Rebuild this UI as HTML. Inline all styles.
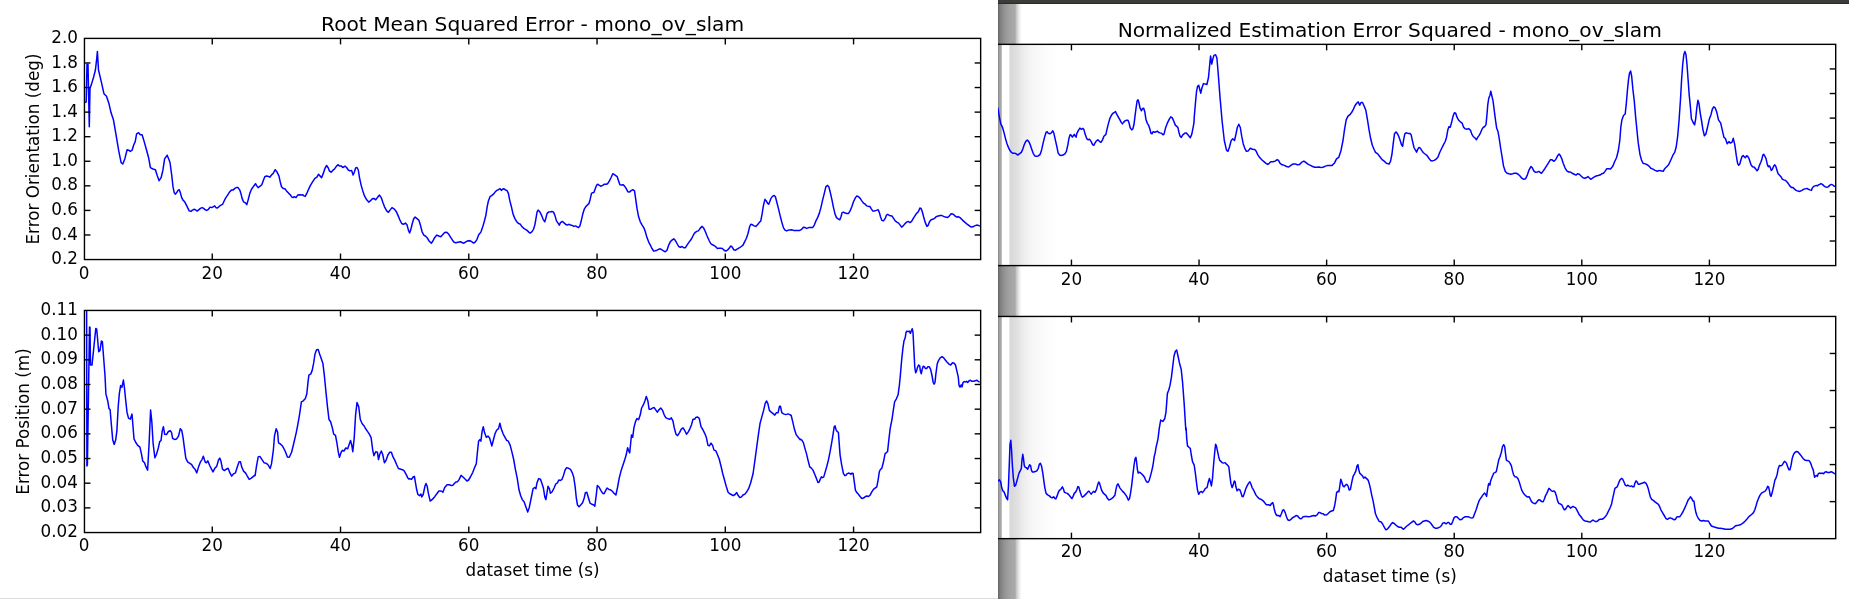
<!DOCTYPE html><html><head><meta charset="utf-8"><style>html,body{margin:0;padding:0;background:#fff;overflow:hidden}svg{display:block}text{-webkit-font-smoothing:antialiased}</style></head><body>
<svg style="will-change:transform" width="1849" height="599" viewBox="0 0 1849 599" font-family="'DejaVu Sans','Liberation Sans',sans-serif">
<defs><linearGradient id="gs" x1="0" x2="1" y1="0" y2="0"><stop offset="0" stop-color="#7a7a7a"/><stop offset="0.5" stop-color="#969696"/><stop offset="0.93" stop-color="#a4a4a4"/><stop offset="1" stop-color="#d8d8d8"/></linearGradient><linearGradient id="gi" x1="0" x2="1" y1="0" y2="0"><stop offset="0" stop-color="#dcdcdc"/><stop offset="0.4" stop-color="#f0f0f0"/><stop offset="1" stop-color="#ffffff"/></linearGradient><clipPath id="cl"><rect x="0" y="0" width="998" height="599"/></clipPath><clipPath id="cr"><rect x="998" y="0" width="851" height="599"/></clipPath></defs>
<g clip-path="url(#cl)">
<rect x="0" y="0" width="998" height="599" fill="#fff"/>
<rect x="0" y="598" width="998" height="1" fill="#dedede"/>
<svg x="84.45" y="38.4" width="896.20" height="221.15" viewBox="84.45 38.4 896.20 221.15" overflow="hidden"><polyline points="84.0,102.6 86.2,102.1 87.0,64.2 88.0,64.2 88.7,98.4 89.3,126.8 90.0,88.4 91.2,85.1 93.7,76.7 95.4,70.0 96.4,61.7 97.4,51.4 98.5,70.0 101.5,82.6 104.0,93.8 106.5,96.3 109.0,103.8 111.0,112.6 113.5,120.1 116.1,135.2 118.6,150.2 121.1,162.7 122.8,164.0 124.8,158.9 127.1,149.7 128.6,150.2 130.3,151.4 132.1,150.2 133.6,145.2 135.3,141.4 136.6,133.9 138.6,132.7 140.3,134.7 142.1,134.7 144.1,141.4 146.6,150.2 148.6,157.7 150.4,167.7 152.9,169.0 155.4,169.7 157.1,175.2 159.1,180.7 161.1,177.7 162.9,170.2 164.6,158.9 167.2,155.2 169.2,160.2 170.0,162.5 171.7,175.0 173.0,186.7 174.2,192.6 175.3,194.2 176.7,192.6 178.0,190.4 179.2,189.7 180.3,192.6 181.7,197.6 183.0,200.1 184.7,201.8 186.4,205.1 188.0,208.4 189.2,210.9 190.9,211.4 192.5,210.1 194.2,209.3 195.9,210.1 197.2,211.1 198.7,209.8 200.4,208.4 202.1,207.6 203.7,208.4 205.1,209.8 206.7,210.4 208.4,209.3 210.1,207.1 211.7,207.6 213.1,206.8 214.7,205.9 215.9,207.6 217.1,208.1 218.8,206.8 220.4,205.4 222.6,204.3 223.8,201.8 225.4,198.4 227.6,195.1 229.8,191.7 231.4,190.1 233.1,190.1 234.8,188.4 236.4,187.6 238.1,187.6 239.8,190.1 240.9,193.4 242.1,198.4 243.5,201.8 245.1,202.6 246.8,204.6 248.1,200.1 249.8,193.4 251.5,189.2 253.5,186.4 255.5,183.7 256.8,185.9 258.1,187.6 259.8,186.4 261.8,184.7 263.5,180.1 264.8,176.7 266.5,175.9 268.5,176.4 269.8,177.2 271.5,175.0 273.2,173.4 275.2,169.7 276.8,171.7 278.9,175.9 280.2,181.7 281.5,186.7 283.2,188.4 284.9,188.7 286.5,190.9 288.5,193.1 290.2,194.7 291.9,197.1 293.2,197.6 294.4,196.7 296.0,197.6 297.7,195.1 299.4,194.7 301.1,195.1 302.7,194.7 303.9,195.9 305.2,196.4 306.9,193.1 308.6,189.2 310.6,185.1 312.7,181.7 314.9,178.4 316.9,177.1 318.6,174.2 319.9,175.9 321.6,177.6 323.3,173.4 324.9,168.4 326.6,165.5 328.3,168.0 329.4,170.9 331.1,172.2 332.8,170.4 334.4,169.2 336.1,166.7 337.8,164.7 339.4,165.9 341.1,165.9 342.8,167.5 345.0,166.2 346.6,167.5 348.3,170.0 350.0,170.9 351.6,170.4 353.1,175.0 354.5,171.7 355.6,168.0 357.0,167.5 358.3,170.0 359.5,177.6 361.1,185.1 362.8,190.9 364.5,195.9 366.7,199.8 368.7,202.1 370.3,200.9 372.3,198.8 374.0,198.4 375.7,199.8 377.4,197.6 379.5,195.1 381.2,197.6 382.9,202.6 384.5,206.8 386.7,210.9 388.4,212.3 390.0,210.1 392.0,207.6 394.0,208.8 396.2,211.4 397.9,215.1 399.6,219.3 401.7,223.5 403.4,224.3 405.4,223.1 407.1,225.1 408.4,230.1 409.6,233.0 410.7,230.1 412.1,224.3 413.7,218.8 415.1,217.1 416.7,218.4 418.8,220.1 420.4,225.1 422.1,231.8 423.8,235.1 425.4,236.0 427.1,237.7 429.1,241.0 431.3,243.2 432.9,241.0 434.6,237.7 436.8,235.1 438.8,236.0 440.8,236.8 442.4,235.1 444.6,232.6 446.8,232.3 448.8,234.3 450.5,237.2 452.5,240.2 454.1,242.2 455.8,242.7 458.0,242.3 460.5,241.8 462.5,242.7 463.8,243.2 465.8,241.8 468.0,240.7 470.0,241.0 470.0,240.6 472.0,241.8 473.7,243.1 475.4,241.8 477.0,239.3 478.7,234.8 480.9,232.1 482.5,227.6 484.2,221.8 485.9,215.1 487.2,206.7 488.4,200.9 490.0,196.7 491.7,195.6 493.4,194.2 495.1,192.1 496.7,190.4 498.4,189.7 500.1,188.7 501.4,190.4 502.6,189.2 503.7,188.7 505.1,189.7 507.1,190.6 508.4,193.4 509.7,200.1 511.4,206.7 513.1,214.3 514.8,218.4 516.8,221.8 518.4,223.4 520.4,224.3 522.1,226.8 523.8,228.4 525.4,229.3 527.1,230.4 528.8,232.1 530.1,233.1 531.8,231.8 533.5,229.3 534.8,225.1 536.0,218.4 537.1,211.8 538.1,210.1 539.8,211.8 541.5,215.1 543.1,219.3 544.8,221.8 546.0,217.6 547.1,213.4 548.5,212.1 550.5,211.8 552.1,211.4 553.5,212.1 554.8,215.1 556.5,220.9 558.2,223.4 559.3,225.1 560.5,222.6 562.2,221.4 563.8,222.6 565.5,224.3 567.2,225.1 568.8,224.3 570.5,225.1 572.2,225.4 573.9,226.4 575.5,225.9 577.2,226.8 578.5,227.6 579.9,225.9 581.0,221.8 582.7,214.3 584.4,208.8 586.0,206.4 587.7,204.7 588.9,203.7 590.2,199.2 591.5,193.4 592.7,192.7 593.9,192.6 595.2,188.7 596.5,185.4 597.7,184.2 599.4,185.4 601.1,186.2 602.7,185.4 604.4,184.2 606.1,184.2 607.7,183.7 609.4,180.9 611.1,177.5 612.8,173.7 614.4,174.7 616.1,175.9 617.2,176.7 618.6,180.9 619.9,184.7 621.6,185.0 623.3,184.7 624.4,185.9 626.1,188.4 627.8,191.7 629.4,192.1 631.1,190.6 632.8,189.7 634.5,190.9 635.6,198.4 637.0,208.4 638.6,216.8 640.3,221.8 642.0,224.8 644.0,228.1 645.3,231.8 647.0,237.6 648.6,241.8 650.3,245.1 652.0,248.5 653.6,251.0 655.3,250.7 657.0,250.2 658.7,249.3 660.3,248.8 662.0,249.8 663.7,251.0 665.3,251.8 667.0,250.2 668.7,245.1 670.3,241.8 672.0,240.1 673.7,238.8 675.4,240.6 677.0,243.5 678.7,246.5 680.4,247.2 682.0,246.5 683.7,247.7 685.4,247.7 687.0,245.1 688.7,242.6 691.2,239.3 692.9,236.0 694.5,233.1 696.7,231.4 698.4,230.9 700.1,228.4 702.1,226.4 703.7,228.1 705.4,231.8 707.1,236.0 709.1,240.5 710.7,243.5 712.4,244.8 714.1,245.5 715.8,246.8 717.4,248.5 719.1,248.2 720.8,248.2 722.4,248.5 724.1,250.2 725.8,251.0 727.4,250.2 729.1,248.2 730.8,246.0 732.1,246.8 733.8,249.8 735.5,250.2 737.5,248.8 739.6,247.7 741.3,246.5 743.0,245.1 744.6,241.8 746.3,238.5 748.0,233.5 749.6,226.8 750.8,224.3 752.5,224.8 754.1,225.9 755.8,226.4 757.5,224.8 759.2,222.6 760.8,220.9 762.2,213.4 763.5,205.1 765.0,199.2 765.3,200.1 766.3,200.9 767.5,203.1 768.7,204.2 769.7,201.7 770.9,198.4 772.5,196.4 774.2,195.4 775.4,196.7 776.7,201.7 778.4,208.4 780.0,215.1 781.7,221.8 783.4,227.6 785.0,230.1 786.7,230.9 788.4,230.1 790.0,230.1 791.7,229.8 793.4,230.4 795.4,230.4 797.6,230.4 799.7,230.4 801.7,229.3 803.4,227.3 805.1,227.6 806.7,228.4 808.8,227.6 810.9,227.6 812.6,227.6 814.3,225.1 815.9,220.9 817.6,217.6 819.3,213.4 820.9,207.6 822.6,200.1 824.3,193.4 825.9,186.7 827.6,185.4 828.8,186.7 830.1,191.7 831.8,199.2 833.5,207.6 835.1,214.3 836.5,217.6 838.1,218.8 839.8,219.8 841.0,216.8 842.1,212.6 843.5,212.1 845.1,213.1 846.8,213.4 848.5,213.4 850.1,210.9 851.8,206.7 853.5,201.7 855.2,198.1 856.8,195.9 858.5,196.7 860.2,198.4 861.8,200.9 863.5,203.1 865.2,204.2 866.8,205.9 868.5,206.4 869.9,206.4 871.0,208.4 872.7,210.9 874.9,210.9 876.5,210.4 878.2,209.8 879.4,212.6 880.5,216.8 881.9,220.4 883.5,220.9 885.2,218.4 886.5,215.1 887.7,214.3 889.4,215.4 891.9,215.9 893.6,218.4 895.2,220.9 896.9,222.1 898.6,223.1 900.2,225.1 901.6,227.1 903.2,225.9 904.9,223.8 906.6,222.1 908.2,221.4 909.9,222.6 911.6,221.4 913.3,218.4 914.9,215.9 916.6,213.4 918.3,211.8 919.9,208.1 921.1,208.4 922.3,211.8 923.6,216.8 925.3,222.6 926.9,226.4 928.3,225.1 929.5,221.8 931.1,219.8 932.8,219.3 934.5,218.4 936.1,216.8 938.3,215.9 940.3,215.4 942.0,215.6 943.6,216.4 945.3,217.1 947.3,217.6 949.0,216.4 951.1,213.8 953.3,214.3 955.0,215.9 956.7,217.1 958.3,216.8 960.0,217.6 961.7,219.3 963.3,220.9 965.3,222.6 967.4,224.3 969.5,225.9 971.2,227.1 972.9,226.8 974.5,225.9 976.7,225.1 978.7,225.6 980.4,226.1" fill="none" stroke="#0000ff" stroke-width="1.5" stroke-linejoin="round"/></svg>
<svg x="84.45" y="310.45" width="896.20" height="222.10" viewBox="84.45 310.45 896.20 222.10" overflow="hidden"><polyline points="86.6,300.0 86.9,466.0 87.4,465.0 89.5,327.0 90.0,327.4 90.5,365.1 92.0,365.1 95.8,328.4 96.7,329.0 98.7,351.7 100.0,350.4 101.4,341.1 102.4,341.7 105.0,375.5 105.9,393.9 107.8,401.2 109.0,408.6 110.1,409.5 111.4,425.1 112.7,439.8 114.2,444.4 115.7,439.8 116.9,430.6 118.2,406.7 119.3,393.9 120.6,385.6 121.9,387.4 123.4,380.1 124.3,386.5 125.6,399.4 127.0,412.2 128.5,418.1 130.3,419.2 132.0,414.1 132.9,425.1 134.0,438.9 135.8,442.5 137.7,445.3 139.9,447.1 141.4,453.6 142.7,460.9 144.5,462.8 145.8,466.4 147.6,470.1 149.1,443.5 150.6,410.0 151.8,421.4 153.1,443.5 154.9,457.8 156.4,454.5 158.3,448.1 159.7,441.6 161.0,440.7 162.3,430.6 163.4,426.6 164.7,434.3 166.5,434.6 168.4,431.5 170.2,430.6 171.5,432.4 172.6,438.3 174.4,439.4 176.6,438.9 178.5,436.1 180.3,428.8 181.8,430.6 183.1,437.9 184.3,447.1 185.8,458.1 187.6,461.8 189.8,463.3 191.7,464.6 193.2,467.3 195.0,469.2 196.8,472.9 198.7,466.4 200.5,461.8 202.0,459.6 203.3,456.3 205.1,461.8 206.4,462.8 207.8,460.9 209.7,465.5 211.5,469.2 213.0,471.9 214.8,468.3 216.7,466.4 218.5,460.0 219.8,458.1 221.1,461.8 222.5,469.2 224.4,470.6 226.2,469.2 228.1,468.3 229.9,472.9 231.7,476.1 233.6,473.8 235.4,472.9 237.2,467.3 239.1,461.8 240.5,461.8 241.8,467.3 243.7,471.4 245.5,472.9 247.3,476.1 249.2,479.3 251.0,478.4 252.8,476.9 254.9,475.1 255.1,475.6 256.5,466.2 258.2,456.9 259.8,456.4 261.7,459.2 264.0,462.7 266.4,463.4 268.2,465.0 270.1,468.5 271.5,463.9 273.4,449.8 274.5,435.8 276.2,428.8 277.6,432.3 278.5,442.8 280.4,444.0 282.7,446.3 285.1,451.0 287.4,456.9 289.3,457.3 291.6,452.2 293.9,442.8 296.3,432.3 297.9,424.1 299.5,414.8 301.4,401.9 303.3,400.8 305.4,398.4 306.8,393.8 308.0,382.1 308.9,375.1 310.8,373.9 312.2,370.4 313.6,363.4 315.0,354.0 316.6,349.8 318.2,349.4 319.6,354.0 321.3,358.7 322.9,363.4 324.3,375.1 325.9,391.4 327.6,407.8 329.0,419.5 330.6,421.8 332.3,427.6 333.7,434.2 335.5,435.4 336.9,442.8 338.3,452.2 339.5,457.3 341.1,452.2 342.5,450.3 343.9,451.0 345.8,448.0 347.7,448.7 349.3,444.0 350.5,440.5 351.7,444.7 352.8,451.7 354.2,438.1 355.6,414.8 357.0,402.6 358.7,406.6 360.3,419.5 362.2,423.7 364.1,426.0 365.7,428.8 367.3,431.1 369.2,433.9 371.1,437.7 372.7,449.8 373.9,455.7 375.7,451.7 377.4,452.2 378.5,459.6 379.7,454.5 381.3,451.0 382.7,454.5 384.4,462.7 386.0,460.4 387.9,455.0 389.8,452.2 391.4,452.2 393.0,456.9 394.9,460.4 396.8,465.0 398.4,468.5 400.0,469.0 402.4,469.7 404.2,470.9 406.1,474.4 407.8,477.9 408.9,479.1 409.2,478.6 411.5,479.3 413.2,477.0 414.4,476.3 415.5,482.8 416.7,489.8 417.9,494.5 419.5,495.7 420.9,494.1 421.8,496.9 423.2,494.5 424.9,486.3 426.0,483.5 427.2,486.3 428.4,493.3 430.2,501.1 432.6,499.2 434.9,496.4 437.2,493.3 438.9,491.0 441.2,491.0 442.9,492.2 444.7,487.5 447.1,484.7 449.4,484.7 451.3,485.6 452.9,485.2 454.5,483.3 455.9,482.1 457.6,481.7 459.2,479.3 461.1,475.4 463.0,477.0 465.3,479.3 466.9,481.0 468.6,480.0 470.4,477.0 472.8,472.3 474.6,467.6 476.3,463.7 477.4,452.4 478.6,441.2 479.8,439.6 480.9,441.2 482.1,431.4 483.3,426.7 484.5,432.6 486.3,437.3 488.0,436.1 489.6,438.0 491.0,443.1 491.9,445.9 493.3,440.3 495.0,433.8 496.6,430.2 498.5,428.6 499.9,423.2 501.3,429.1 503.1,433.8 505.0,437.3 506.7,440.3 508.3,441.2 510.2,445.4 512.0,452.4 513.7,459.5 515.3,468.8 517.2,478.1 519.0,489.8 520.7,495.7 522.3,499.6 524.2,502.0 526.1,507.4 527.7,512.0 529.3,507.4 531.2,498.0 533.1,488.7 534.7,487.5 535.9,488.7 537.0,482.8 538.7,478.6 540.5,479.3 541.7,482.8 543.4,488.0 544.8,496.9 545.9,499.6 547.1,492.2 548.0,486.3 549.4,488.7 550.4,493.3 552.2,491.7 554.1,488.0 555.7,484.0 557.4,482.8 558.8,480.0 560.4,480.5 562.0,479.3 563.5,475.4 565.1,470.0 566.7,467.6 568.6,468.3 570.5,469.3 572.1,472.3 573.7,477.0 575.1,486.3 576.3,498.0 577.5,505.0 579.1,506.7 580.7,505.0 582.6,502.7 584.2,498.0 585.4,492.6 586.8,492.2 588.5,498.0 590.1,503.2 592.0,504.3 593.8,505.0 594.8,506.2 596.2,495.7 597.3,485.6 599.0,487.0 600.8,490.3 602.7,493.3 604.1,493.8 605.1,491.7 607.0,488.0 608.9,489.4 610.5,489.8 612.1,491.0 614.0,493.3 615.9,495.0 617.5,487.5 619.2,478.1 621.0,471.1 622.9,465.3 624.5,460.6 626.2,454.8 627.6,447.8 628.5,450.1 629.7,452.9 630.9,440.8 631.5,434.9 632.7,437.3 633.9,427.9 635.5,421.6 636.9,418.6 638.6,419.7 640.2,415.1 641.6,408.0 643.2,405.2 644.9,401.0 646.3,396.4 647.9,401.0 649.1,409.2 651.0,409.2 652.6,408.0 654.2,407.6 656.1,410.4 657.3,412.2 658.9,409.9 660.8,408.0 662.6,410.4 664.3,415.1 665.9,417.9 667.8,418.6 669.6,419.3 671.3,417.9 672.9,420.9 674.3,427.9 676.0,434.2 677.6,435.6 679.5,432.6 681.3,429.1 683.0,427.9 684.6,430.2 686.5,434.2 688.3,431.9 690.0,428.6 691.6,424.4 693.0,419.3 694.6,419.3 695.8,417.4 697.7,416.9 699.3,418.6 701.0,426.7 702.8,429.5 704.7,433.3 706.3,437.3 708.0,445.4 709.4,445.9 711.0,443.1 712.6,445.4 714.0,450.1 715.7,450.6 717.3,454.3 719.2,459.0 721.1,466.5 722.7,473.5 724.3,479.3 726.2,486.3 728.1,492.2 729.7,493.8 731.3,494.5 733.2,495.7 735.1,494.5 736.7,492.6 737.9,495.0 739.8,497.6 741.4,496.9 743.0,495.0 744.9,494.1 746.8,491.7 748.6,488.7 750.7,482.8 753.1,473.5 754.7,461.8 756.6,447.8 758.5,433.8 760.1,423.2 761.7,417.4 763.6,410.4 765.2,403.4 766.6,401.0 767.8,403.4 769.4,410.4 771.8,412.7 773.4,413.9 774.8,415.1 776.4,412.7 778.1,412.7 779.5,406.2 780.4,406.2 781.8,412.7 783.5,413.9 785.8,414.6 788.1,413.9 789.8,414.6 791.2,415.5 792.8,422.1 794.4,429.1 796.3,434.9 798.2,437.3 800.0,439.6 800.5,439.2 802.0,440.4 803.4,442.6 804.7,447.6 806.4,453.4 808.0,460.1 809.7,466.8 811.4,468.1 813.0,470.1 814.7,474.3 816.4,478.4 818.0,482.6 819.2,482.1 820.4,478.8 821.4,476.8 822.5,477.6 823.7,477.1 825.0,472.6 826.7,466.8 828.4,460.1 830.1,451.7 831.7,442.6 833.1,434.2 834.2,426.7 835.1,425.9 835.9,429.2 836.7,430.9 837.6,431.7 838.4,432.5 839.2,443.4 840.1,455.1 841.7,465.1 843.4,473.4 844.8,475.6 845.9,475.4 847.1,473.8 848.4,473.1 849.8,473.4 850.9,474.3 852.1,473.1 853.1,473.4 854.3,481.8 855.4,490.1 856.8,492.6 858.4,494.3 860.1,496.5 861.8,498.5 863.5,498.1 865.1,496.8 866.8,496.0 868.5,496.5 870.1,495.1 871.8,491.8 873.5,489.3 875.1,488.1 876.8,486.8 878.1,480.1 879.3,471.8 880.5,469.3 881.8,468.4 883.5,461.8 885.1,453.7 886.5,452.6 887.6,451.4 888.8,440.1 890.2,428.4 892.0,419.3 893.4,409.6 894.6,401.8 896.4,398.8 898.1,394.8 899.4,385.1 900.4,374.6 901.6,360.6 902.9,348.3 903.9,341.3 905.2,337.8 906.0,332.5 906.9,331.1 908.1,331.6 909.2,331.1 910.4,333.4 911.3,330.8 912.2,328.7 913.0,332.5 913.9,350.1 914.8,367.6 915.7,372.8 916.5,371.1 917.4,367.6 918.6,365.0 919.7,365.8 920.4,371.1 921.3,373.7 922.2,369.3 923.2,366.2 924.4,366.7 925.3,368.5 926.7,368.5 927.9,366.7 929.2,366.7 930.6,369.3 932.0,375.5 933.2,382.5 934.1,384.2 935.0,382.5 935.8,374.6 937.2,364.1 938.5,360.6 940.2,357.9 942.0,356.7 943.7,357.9 945.5,360.2 947.2,362.3 949.0,364.1 950.7,365.0 952.5,362.7 954.2,363.2 955.5,365.0 956.9,371.1 958.3,377.2 959.0,385.1 960.0,387.2 961.2,384.8 962.1,386.9 963.0,382.5 964.2,381.6 965.6,382.0 966.5,381.3 967.7,382.5 969.1,380.7 970.5,380.2 971.8,381.3 973.5,381.3 975.3,380.7 977.0,380.2 978.2,381.3 979.6,382.0" fill="none" stroke="#0000ff" stroke-width="1.5" stroke-linejoin="round"/></svg>
<g stroke="#000" stroke-width="1.4" fill="none">
<rect x="84.45" y="38.4" width="896.20" height="221.15"/>
<line x1="212.26" y1="259.55" x2="212.26" y2="253.55"/>
<line x1="212.26" y1="38.4" x2="212.26" y2="44.4"/>
<line x1="340.52" y1="259.55" x2="340.52" y2="253.55"/>
<line x1="340.52" y1="38.4" x2="340.52" y2="44.4"/>
<line x1="468.78" y1="259.55" x2="468.78" y2="253.55"/>
<line x1="468.78" y1="38.4" x2="468.78" y2="44.4"/>
<line x1="597.04" y1="259.55" x2="597.04" y2="253.55"/>
<line x1="597.04" y1="38.4" x2="597.04" y2="44.4"/>
<line x1="725.30" y1="259.55" x2="725.30" y2="253.55"/>
<line x1="725.30" y1="38.4" x2="725.30" y2="44.4"/>
<line x1="853.56" y1="259.55" x2="853.56" y2="253.55"/>
<line x1="853.56" y1="38.4" x2="853.56" y2="44.4"/>
<line x1="84.45" y1="62.97" x2="90.45" y2="62.97"/>
<line x1="980.65" y1="62.97" x2="974.65" y2="62.97"/>
<line x1="84.45" y1="87.54" x2="90.45" y2="87.54"/>
<line x1="980.65" y1="87.54" x2="974.65" y2="87.54"/>
<line x1="84.45" y1="112.12" x2="90.45" y2="112.12"/>
<line x1="980.65" y1="112.12" x2="974.65" y2="112.12"/>
<line x1="84.45" y1="136.69" x2="90.45" y2="136.69"/>
<line x1="980.65" y1="136.69" x2="974.65" y2="136.69"/>
<line x1="84.45" y1="161.26" x2="90.45" y2="161.26"/>
<line x1="980.65" y1="161.26" x2="974.65" y2="161.26"/>
<line x1="84.45" y1="185.83" x2="90.45" y2="185.83"/>
<line x1="980.65" y1="185.83" x2="974.65" y2="185.83"/>
<line x1="84.45" y1="210.41" x2="90.45" y2="210.41"/>
<line x1="980.65" y1="210.41" x2="974.65" y2="210.41"/>
<line x1="84.45" y1="234.98" x2="90.45" y2="234.98"/>
<line x1="980.65" y1="234.98" x2="974.65" y2="234.98"/>
<rect x="84.45" y="310.45" width="896.20" height="222.10"/>
<line x1="212.26" y1="532.55" x2="212.26" y2="526.55"/>
<line x1="212.26" y1="310.45" x2="212.26" y2="316.45"/>
<line x1="340.52" y1="532.55" x2="340.52" y2="526.55"/>
<line x1="340.52" y1="310.45" x2="340.52" y2="316.45"/>
<line x1="468.78" y1="532.55" x2="468.78" y2="526.55"/>
<line x1="468.78" y1="310.45" x2="468.78" y2="316.45"/>
<line x1="597.04" y1="532.55" x2="597.04" y2="526.55"/>
<line x1="597.04" y1="310.45" x2="597.04" y2="316.45"/>
<line x1="725.30" y1="532.55" x2="725.30" y2="526.55"/>
<line x1="725.30" y1="310.45" x2="725.30" y2="316.45"/>
<line x1="853.56" y1="532.55" x2="853.56" y2="526.55"/>
<line x1="853.56" y1="310.45" x2="853.56" y2="316.45"/>
<line x1="84.45" y1="335.13" x2="90.45" y2="335.13"/>
<line x1="980.65" y1="335.13" x2="974.65" y2="335.13"/>
<line x1="84.45" y1="359.81" x2="90.45" y2="359.81"/>
<line x1="980.65" y1="359.81" x2="974.65" y2="359.81"/>
<line x1="84.45" y1="384.48" x2="90.45" y2="384.48"/>
<line x1="980.65" y1="384.48" x2="974.65" y2="384.48"/>
<line x1="84.45" y1="409.16" x2="90.45" y2="409.16"/>
<line x1="980.65" y1="409.16" x2="974.65" y2="409.16"/>
<line x1="84.45" y1="433.84" x2="90.45" y2="433.84"/>
<line x1="980.65" y1="433.84" x2="974.65" y2="433.84"/>
<line x1="84.45" y1="458.52" x2="90.45" y2="458.52"/>
<line x1="980.65" y1="458.52" x2="974.65" y2="458.52"/>
<line x1="84.45" y1="483.19" x2="90.45" y2="483.19"/>
<line x1="980.65" y1="483.19" x2="974.65" y2="483.19"/>
<line x1="84.45" y1="507.87" x2="90.45" y2="507.87"/>
<line x1="980.65" y1="507.87" x2="974.65" y2="507.87"/>
</g>
<g font-size="16.8" fill="#000">
<text x="77.95" y="43.00" text-anchor="end">2.0</text>
<text x="77.95" y="67.57" text-anchor="end">1.8</text>
<text x="77.95" y="92.14" text-anchor="end">1.6</text>
<text x="77.95" y="116.72" text-anchor="end">1.4</text>
<text x="77.95" y="141.29" text-anchor="end">1.2</text>
<text x="77.95" y="165.86" text-anchor="end">1.0</text>
<text x="77.95" y="190.43" text-anchor="end">0.8</text>
<text x="77.95" y="215.01" text-anchor="end">0.6</text>
<text x="77.95" y="239.58" text-anchor="end">0.4</text>
<text x="77.95" y="264.15" text-anchor="end">0.2</text>
<text x="77.95" y="315.05" text-anchor="end">0.11</text>
<text x="77.95" y="339.73" text-anchor="end">0.10</text>
<text x="77.95" y="364.41" text-anchor="end">0.09</text>
<text x="77.95" y="389.08" text-anchor="end">0.08</text>
<text x="77.95" y="413.76" text-anchor="end">0.07</text>
<text x="77.95" y="438.44" text-anchor="end">0.06</text>
<text x="77.95" y="463.12" text-anchor="end">0.05</text>
<text x="77.95" y="487.79" text-anchor="end">0.04</text>
<text x="77.95" y="512.47" text-anchor="end">0.03</text>
<text x="77.95" y="537.15" text-anchor="end">0.02</text>
<text x="84.00" y="278.95" text-anchor="middle">0</text>
<text x="212.26" y="278.95" text-anchor="middle">20</text>
<text x="340.52" y="278.95" text-anchor="middle">40</text>
<text x="468.78" y="278.95" text-anchor="middle">60</text>
<text x="597.04" y="278.95" text-anchor="middle">80</text>
<text x="725.30" y="278.95" text-anchor="middle">100</text>
<text x="853.56" y="278.95" text-anchor="middle">120</text>
<text x="84.00" y="550.95" text-anchor="middle">0</text>
<text x="212.26" y="550.95" text-anchor="middle">20</text>
<text x="340.52" y="550.95" text-anchor="middle">40</text>
<text x="468.78" y="550.95" text-anchor="middle">60</text>
<text x="597.04" y="550.95" text-anchor="middle">80</text>
<text x="725.30" y="550.95" text-anchor="middle">100</text>
<text x="853.56" y="550.95" text-anchor="middle">120</text>
<text x="532.55" y="576.05" text-anchor="middle">dataset time (s)</text>
<text transform="translate(38.6,148.97) rotate(-90)" text-anchor="middle">Error Orientation (deg)</text>
<text transform="translate(29.2,421.50) rotate(-90)" text-anchor="middle">Error Position (m)</text>
</g>
<text x="532.55" y="30.8" font-size="20.2" text-anchor="middle">Root Mean Squared Error - mono_ov_slam</text>
</g>
<g clip-path="url(#cr)">
<rect x="998" y="0" width="851" height="599" fill="#fff"/>
<rect x="998" y="44.35" width="1" height="221.25" fill="#8e8e8e"/>
<rect x="999" y="44.35" width="1" height="221.25" fill="#a0a0a0"/>
<rect x="1000" y="44.35" width="1" height="221.25" fill="#a6a6a6"/>
<rect x="1001" y="44.35" width="1" height="221.25" fill="#bdbdbd"/>
<rect x="1009" y="44.35" width="1" height="221.25" fill="#e8e8e8"/>
<rect x="1010" y="44.35" width="1" height="221.25" fill="#dadada"/>
<rect x="1011" y="44.35" width="1" height="221.25" fill="#d9d9d9"/>
<rect x="1012" y="44.35" width="1" height="221.25" fill="#dadada"/>
<rect x="1013" y="44.35" width="1" height="221.25" fill="#dcdcdc"/>
<rect x="1014" y="44.35" width="1" height="221.25" fill="#dddddd"/>
<rect x="1015" y="44.35" width="1" height="221.25" fill="#dedede"/>
<rect x="1016" y="44.35" width="1" height="221.25" fill="#dfdfdf"/>
<rect x="1017" y="44.35" width="1" height="221.25" fill="#e1e1e1"/>
<rect x="1018" y="44.35" width="1" height="221.25" fill="#e3e3e3"/>
<rect x="1019" y="44.35" width="1" height="221.25" fill="#e5e5e5"/>
<rect x="1020" y="44.35" width="1" height="221.25" fill="#e8e8e8"/>
<rect x="1021" y="44.35" width="1" height="221.25" fill="#eaeaea"/>
<rect x="1022" y="44.35" width="1" height="221.25" fill="#ebebeb"/>
<rect x="1023" y="44.35" width="1" height="221.25" fill="#ededed"/>
<rect x="1024" y="44.35" width="1" height="221.25" fill="#eeeeee"/>
<rect x="1025" y="44.35" width="1" height="221.25" fill="#efefef"/>
<rect x="1026" y="44.35" width="1" height="221.25" fill="#f1f1f1"/>
<rect x="1027" y="44.35" width="1" height="221.25" fill="#f2f2f2"/>
<rect x="1028" y="44.35" width="1" height="221.25" fill="#f3f3f3"/>
<rect x="1029" y="44.35" width="1" height="221.25" fill="#f4f4f4"/>
<rect x="1030" y="44.35" width="1" height="221.25" fill="#f5f5f5"/>
<rect x="1031" y="44.35" width="1" height="221.25" fill="#f6f6f6"/>
<rect x="1032" y="44.35" width="1" height="221.25" fill="#f6f6f6"/>
<rect x="1033" y="44.35" width="1" height="221.25" fill="#f7f7f7"/>
<rect x="1034" y="44.35" width="1" height="221.25" fill="#f7f7f7"/>
<rect x="1035" y="44.35" width="1" height="221.25" fill="#f8f8f8"/>
<rect x="1036" y="44.35" width="1" height="221.25" fill="#f8f8f8"/>
<rect x="1037" y="44.35" width="1" height="221.25" fill="#f9f9f9"/>
<rect x="1038" y="44.35" width="1" height="221.25" fill="#f9f9f9"/>
<rect x="1039" y="44.35" width="1" height="221.25" fill="#fafafa"/>
<rect x="1040" y="44.35" width="1" height="221.25" fill="#fafafa"/>
<rect x="1041" y="44.35" width="1" height="221.25" fill="#fafafa"/>
<rect x="1042" y="44.35" width="1" height="221.25" fill="#fbfbfb"/>
<rect x="1043" y="44.35" width="1" height="221.25" fill="#fbfbfb"/>
<rect x="1044" y="44.35" width="1" height="221.25" fill="#fbfbfb"/>
<rect x="1045" y="44.35" width="1" height="221.25" fill="#fcfcfc"/>
<rect x="1046" y="44.35" width="1" height="221.25" fill="#fcfcfc"/>
<rect x="1047" y="44.35" width="1" height="221.25" fill="#fcfcfc"/>
<rect x="1048" y="44.35" width="1" height="221.25" fill="#fcfcfc"/>
<rect x="1049" y="44.35" width="1" height="221.25" fill="#fdfdfd"/>
<rect x="1050" y="44.35" width="1" height="221.25" fill="#fdfdfd"/>
<rect x="1051" y="44.35" width="1" height="221.25" fill="#fdfdfd"/>
<rect x="1052" y="44.35" width="1" height="221.25" fill="#fdfdfd"/>
<rect x="1053" y="44.35" width="1" height="221.25" fill="#fefefe"/>
<rect x="1054" y="44.35" width="1" height="221.25" fill="#fefefe"/>
<rect x="1055" y="44.35" width="1" height="221.25" fill="#fefefe"/>
<rect x="998" y="316.45" width="1" height="222.20" fill="#8e8e8e"/>
<rect x="999" y="316.45" width="1" height="222.20" fill="#a0a0a0"/>
<rect x="1000" y="316.45" width="1" height="222.20" fill="#a6a6a6"/>
<rect x="1001" y="316.45" width="1" height="222.20" fill="#bdbdbd"/>
<rect x="1009" y="316.45" width="1" height="222.20" fill="#e8e8e8"/>
<rect x="1010" y="316.45" width="1" height="222.20" fill="#dadada"/>
<rect x="1011" y="316.45" width="1" height="222.20" fill="#d9d9d9"/>
<rect x="1012" y="316.45" width="1" height="222.20" fill="#dadada"/>
<rect x="1013" y="316.45" width="1" height="222.20" fill="#dcdcdc"/>
<rect x="1014" y="316.45" width="1" height="222.20" fill="#dddddd"/>
<rect x="1015" y="316.45" width="1" height="222.20" fill="#dedede"/>
<rect x="1016" y="316.45" width="1" height="222.20" fill="#dfdfdf"/>
<rect x="1017" y="316.45" width="1" height="222.20" fill="#e1e1e1"/>
<rect x="1018" y="316.45" width="1" height="222.20" fill="#e3e3e3"/>
<rect x="1019" y="316.45" width="1" height="222.20" fill="#e5e5e5"/>
<rect x="1020" y="316.45" width="1" height="222.20" fill="#e8e8e8"/>
<rect x="1021" y="316.45" width="1" height="222.20" fill="#eaeaea"/>
<rect x="1022" y="316.45" width="1" height="222.20" fill="#ebebeb"/>
<rect x="1023" y="316.45" width="1" height="222.20" fill="#ededed"/>
<rect x="1024" y="316.45" width="1" height="222.20" fill="#eeeeee"/>
<rect x="1025" y="316.45" width="1" height="222.20" fill="#efefef"/>
<rect x="1026" y="316.45" width="1" height="222.20" fill="#f1f1f1"/>
<rect x="1027" y="316.45" width="1" height="222.20" fill="#f2f2f2"/>
<rect x="1028" y="316.45" width="1" height="222.20" fill="#f3f3f3"/>
<rect x="1029" y="316.45" width="1" height="222.20" fill="#f4f4f4"/>
<rect x="1030" y="316.45" width="1" height="222.20" fill="#f5f5f5"/>
<rect x="1031" y="316.45" width="1" height="222.20" fill="#f6f6f6"/>
<rect x="1032" y="316.45" width="1" height="222.20" fill="#f6f6f6"/>
<rect x="1033" y="316.45" width="1" height="222.20" fill="#f7f7f7"/>
<rect x="1034" y="316.45" width="1" height="222.20" fill="#f7f7f7"/>
<rect x="1035" y="316.45" width="1" height="222.20" fill="#f8f8f8"/>
<rect x="1036" y="316.45" width="1" height="222.20" fill="#f8f8f8"/>
<rect x="1037" y="316.45" width="1" height="222.20" fill="#f9f9f9"/>
<rect x="1038" y="316.45" width="1" height="222.20" fill="#f9f9f9"/>
<rect x="1039" y="316.45" width="1" height="222.20" fill="#fafafa"/>
<rect x="1040" y="316.45" width="1" height="222.20" fill="#fafafa"/>
<rect x="1041" y="316.45" width="1" height="222.20" fill="#fafafa"/>
<rect x="1042" y="316.45" width="1" height="222.20" fill="#fbfbfb"/>
<rect x="1043" y="316.45" width="1" height="222.20" fill="#fbfbfb"/>
<rect x="1044" y="316.45" width="1" height="222.20" fill="#fbfbfb"/>
<rect x="1045" y="316.45" width="1" height="222.20" fill="#fcfcfc"/>
<rect x="1046" y="316.45" width="1" height="222.20" fill="#fcfcfc"/>
<rect x="1047" y="316.45" width="1" height="222.20" fill="#fcfcfc"/>
<rect x="1048" y="316.45" width="1" height="222.20" fill="#fcfcfc"/>
<rect x="1049" y="316.45" width="1" height="222.20" fill="#fdfdfd"/>
<rect x="1050" y="316.45" width="1" height="222.20" fill="#fdfdfd"/>
<rect x="1051" y="316.45" width="1" height="222.20" fill="#fdfdfd"/>
<rect x="1052" y="316.45" width="1" height="222.20" fill="#fdfdfd"/>
<rect x="1053" y="316.45" width="1" height="222.20" fill="#fefefe"/>
<rect x="1054" y="316.45" width="1" height="222.20" fill="#fefefe"/>
<rect x="1055" y="316.45" width="1" height="222.20" fill="#fefefe"/>
<rect x="998" y="4" width="1" height="40.35" fill="#686868"/>
<rect x="999" y="4" width="1" height="40.35" fill="#777777"/>
<rect x="1000" y="4" width="1" height="40.35" fill="#7f7f7f"/>
<rect x="1001" y="4" width="1" height="40.35" fill="#868686"/>
<rect x="1002" y="4" width="1" height="40.35" fill="#8a8a8a"/>
<rect x="1003" y="4" width="1" height="40.35" fill="#8f8f8f"/>
<rect x="1004" y="4" width="1" height="40.35" fill="#939393"/>
<rect x="1005" y="4" width="1" height="40.35" fill="#979797"/>
<rect x="1006" y="4" width="1" height="40.35" fill="#9a9a9a"/>
<rect x="1007" y="4" width="1" height="40.35" fill="#9c9c9c"/>
<rect x="1008" y="4" width="1" height="40.35" fill="#9f9f9f"/>
<rect x="1009" y="4" width="1" height="40.35" fill="#a2a2a2"/>
<rect x="1010" y="4" width="1" height="40.35" fill="#a4a4a4"/>
<rect x="1011" y="4" width="1" height="40.35" fill="#a5a5a5"/>
<rect x="1012" y="4" width="1" height="40.35" fill="#a7a7a7"/>
<rect x="1013" y="4" width="1" height="40.35" fill="#a8a8a8"/>
<rect x="1014" y="4" width="1" height="40.35" fill="#a9a9a9"/>
<rect x="1015" y="4" width="1" height="40.35" fill="#b2b2b2"/>
<rect x="1016" y="4" width="1" height="40.35" fill="#c8c8c8"/>
<rect x="1017" y="4" width="1" height="40.35" fill="#d6d6d6"/>
<rect x="1018" y="4" width="1" height="40.35" fill="#e2e2e2"/>
<rect x="1019" y="4" width="1" height="40.35" fill="#eeeeee"/>
<rect x="1020" y="4" width="1" height="40.35" fill="#f8f8f8"/>
<rect x="1021" y="4" width="1" height="40.35" fill="#fcfcfc"/>
<rect x="998" y="265.6" width="1" height="50.85" fill="#686868"/>
<rect x="999" y="265.6" width="1" height="50.85" fill="#777777"/>
<rect x="1000" y="265.6" width="1" height="50.85" fill="#7f7f7f"/>
<rect x="1001" y="265.6" width="1" height="50.85" fill="#868686"/>
<rect x="1002" y="265.6" width="1" height="50.85" fill="#8a8a8a"/>
<rect x="1003" y="265.6" width="1" height="50.85" fill="#8f8f8f"/>
<rect x="1004" y="265.6" width="1" height="50.85" fill="#939393"/>
<rect x="1005" y="265.6" width="1" height="50.85" fill="#979797"/>
<rect x="1006" y="265.6" width="1" height="50.85" fill="#9a9a9a"/>
<rect x="1007" y="265.6" width="1" height="50.85" fill="#9c9c9c"/>
<rect x="1008" y="265.6" width="1" height="50.85" fill="#9f9f9f"/>
<rect x="1009" y="265.6" width="1" height="50.85" fill="#a2a2a2"/>
<rect x="1010" y="265.6" width="1" height="50.85" fill="#a4a4a4"/>
<rect x="1011" y="265.6" width="1" height="50.85" fill="#a5a5a5"/>
<rect x="1012" y="265.6" width="1" height="50.85" fill="#a7a7a7"/>
<rect x="1013" y="265.6" width="1" height="50.85" fill="#a8a8a8"/>
<rect x="1014" y="265.6" width="1" height="50.85" fill="#a9a9a9"/>
<rect x="1015" y="265.6" width="1" height="50.85" fill="#b2b2b2"/>
<rect x="1016" y="265.6" width="1" height="50.85" fill="#c8c8c8"/>
<rect x="1017" y="265.6" width="1" height="50.85" fill="#d6d6d6"/>
<rect x="1018" y="265.6" width="1" height="50.85" fill="#e2e2e2"/>
<rect x="1019" y="265.6" width="1" height="50.85" fill="#eeeeee"/>
<rect x="1020" y="265.6" width="1" height="50.85" fill="#f8f8f8"/>
<rect x="1021" y="265.6" width="1" height="50.85" fill="#fcfcfc"/>
<rect x="998" y="538.65" width="1" height="60.35" fill="#686868"/>
<rect x="999" y="538.65" width="1" height="60.35" fill="#777777"/>
<rect x="1000" y="538.65" width="1" height="60.35" fill="#7f7f7f"/>
<rect x="1001" y="538.65" width="1" height="60.35" fill="#868686"/>
<rect x="1002" y="538.65" width="1" height="60.35" fill="#8a8a8a"/>
<rect x="1003" y="538.65" width="1" height="60.35" fill="#8f8f8f"/>
<rect x="1004" y="538.65" width="1" height="60.35" fill="#939393"/>
<rect x="1005" y="538.65" width="1" height="60.35" fill="#979797"/>
<rect x="1006" y="538.65" width="1" height="60.35" fill="#9a9a9a"/>
<rect x="1007" y="538.65" width="1" height="60.35" fill="#9c9c9c"/>
<rect x="1008" y="538.65" width="1" height="60.35" fill="#9f9f9f"/>
<rect x="1009" y="538.65" width="1" height="60.35" fill="#a2a2a2"/>
<rect x="1010" y="538.65" width="1" height="60.35" fill="#a4a4a4"/>
<rect x="1011" y="538.65" width="1" height="60.35" fill="#a5a5a5"/>
<rect x="1012" y="538.65" width="1" height="60.35" fill="#a7a7a7"/>
<rect x="1013" y="538.65" width="1" height="60.35" fill="#a8a8a8"/>
<rect x="1014" y="538.65" width="1" height="60.35" fill="#a9a9a9"/>
<rect x="1015" y="538.65" width="1" height="60.35" fill="#b2b2b2"/>
<rect x="1016" y="538.65" width="1" height="60.35" fill="#c8c8c8"/>
<rect x="1017" y="538.65" width="1" height="60.35" fill="#d6d6d6"/>
<rect x="1018" y="538.65" width="1" height="60.35" fill="#e2e2e2"/>
<rect x="1019" y="538.65" width="1" height="60.35" fill="#eeeeee"/>
<rect x="1020" y="538.65" width="1" height="60.35" fill="#f8f8f8"/>
<rect x="1021" y="538.65" width="1" height="60.35" fill="#fcfcfc"/>
<rect x="998" y="0" width="851" height="3" fill="#3c3b37"/><rect x="998" y="3" width="851" height="1" fill="#2c2a26"/>
<svg x="998" y="44.35" width="837.7" height="221.25000000000003" viewBox="998 44.35 837.7 221.25000000000003" overflow="hidden"><polyline points="995.0,102.5 998.0,108.5 999.2,116.1 1000.7,123.6 1002.5,127.3 1004.0,132.6 1005.5,138.6 1007.0,143.8 1008.5,147.6 1010.0,150.6 1011.5,152.4 1013.0,153.3 1014.8,153.3 1016.3,153.9 1017.8,155.1 1019.3,153.9 1021.3,152.4 1022.8,149.1 1024.3,144.6 1025.8,141.3 1027.3,140.1 1028.8,141.6 1030.3,144.9 1031.8,149.4 1033.3,153.6 1034.8,155.9 1036.3,156.2 1038.3,155.9 1040.1,154.4 1041.6,149.9 1043.1,143.1 1044.6,137.1 1046.1,132.3 1047.3,131.8 1048.3,133.3 1049.8,133.8 1051.3,132.9 1052.8,130.8 1053.9,133.3 1055.4,140.1 1056.9,146.9 1058.1,152.9 1059.6,155.1 1061.1,155.4 1062.9,155.1 1064.9,153.9 1066.4,151.4 1067.9,144.6 1068.9,138.6 1070.1,134.8 1071.3,135.3 1072.4,137.1 1073.4,135.6 1074.3,134.4 1075.4,136.3 1076.1,137.1 1076.9,133.3 1078.4,130.3 1079.9,128.1 1081.4,129.3 1082.9,128.4 1083.9,129.6 1085.1,134.1 1086.7,138.6 1088.2,139.8 1089.7,139.3 1091.2,141.6 1092.7,144.9 1093.9,145.3 1094.9,143.1 1096.4,140.8 1097.9,139.8 1099.4,141.3 1100.9,142.3 1102.4,140.1 1103.9,136.3 1105.9,134.4 1106.9,129.6 1108.4,123.6 1109.9,118.3 1111.4,115.3 1112.9,113.3 1114.4,112.3 1115.5,111.5 1116.7,114.2 1118.2,116.8 1119.7,119.4 1121.2,122.4 1122.4,123.9 1123.5,122.4 1125.0,120.9 1126.5,120.3 1128.0,120.3 1129.0,122.8 1130.2,127.8 1131.7,129.9 1132.9,128.8 1134.0,124.3 1135.0,116.1 1136.2,107.0 1137.1,101.0 1138.0,99.8 1138.9,102.5 1140.0,107.8 1141.5,110.8 1142.5,108.5 1143.7,108.2 1144.9,112.3 1146.0,119.8 1147.5,123.6 1148.5,125.1 1149.8,128.8 1151.0,133.3 1152.0,133.8 1153.0,131.8 1154.6,132.3 1156.1,131.8 1157.3,131.1 1158.5,132.3 1160.0,132.9 1161.5,133.3 1163.0,134.8 1164.0,134.1 1165.5,128.1 1167.5,122.8 1169.3,119.1 1170.8,116.8 1172.3,117.9 1173.8,121.3 1175.3,125.1 1176.8,126.3 1178.0,127.8 1179.0,132.6 1180.1,136.3 1181.3,137.4 1182.8,134.8 1184.6,133.3 1186.1,132.9 1187.6,134.4 1189.1,136.3 1190.3,137.8 1191.8,134.1 1193.0,128.1 1193.9,123.1 1194.3,116.6 1195.4,103.6 1196.5,91.7 1197.6,86.2 1198.7,85.2 1199.8,89.5 1200.8,93.2 1201.9,88.0 1203.5,83.6 1205.2,84.1 1206.9,84.5 1208.5,77.5 1209.5,66.7 1210.6,55.9 1211.7,64.1 1212.8,59.1 1213.9,55.4 1215.6,54.8 1216.9,58.0 1218.2,73.2 1220.0,97.1 1222.1,121.0 1224.3,140.5 1226.5,150.2 1228.0,151.3 1229.5,147.0 1231.2,140.5 1232.8,138.8 1234.5,140.5 1236.0,134.0 1237.3,127.5 1238.8,124.2 1240.3,127.5 1241.7,136.2 1243.2,143.7 1244.7,148.1 1246.4,151.3 1248.2,150.9 1250.3,148.3 1252.5,149.2 1254.7,149.6 1256.2,151.3 1257.7,154.6 1259.9,157.8 1262.0,160.0 1264.2,161.8 1266.0,163.3 1267.7,164.4 1269.2,163.3 1270.7,161.8 1272.9,161.8 1275.1,161.1 1277.2,159.6 1278.5,160.4 1280.1,163.3 1282.2,164.8 1284.4,165.4 1286.6,166.5 1288.7,167.0 1290.9,165.4 1293.1,163.9 1295.2,163.9 1297.4,164.8 1299.6,164.4 1301.8,162.2 1303.9,161.1 1306.1,162.6 1308.3,164.4 1310.4,165.4 1312.6,166.5 1314.8,167.2 1317.0,167.2 1319.1,167.0 1321.3,167.6 1323.5,167.0 1325.6,166.1 1327.8,165.4 1330.0,165.4 1332.1,165.4 1334.3,163.3 1336.5,158.9 1338.7,157.4 1340.8,151.3 1343.0,140.5 1344.5,129.6 1346.2,119.9 1348.0,116.2 1350.2,114.4 1351.7,112.3 1353.2,109.7 1354.9,105.8 1356.7,103.2 1358.2,101.9 1359.7,105.3 1361.0,102.5 1362.5,102.5 1364.0,105.8 1365.8,110.1 1367.5,119.9 1369.0,129.6 1370.6,138.3 1372.3,145.3 1374.0,149.2 1375.5,152.4 1377.7,153.9 1379.9,156.8 1382.1,159.6 1384.2,161.1 1386.4,163.3 1388.6,163.9 1389.0,164.1 1390.5,161.3 1392.0,154.0 1393.3,142.9 1394.5,133.8 1396.0,131.9 1397.5,133.8 1398.8,136.5 1400.1,140.2 1401.5,144.8 1402.6,146.3 1403.7,139.3 1404.8,133.8 1406.1,132.8 1408.0,133.4 1409.8,133.4 1411.1,134.7 1412.5,141.1 1414.0,147.5 1415.3,149.9 1416.6,152.1 1417.7,149.4 1419.0,147.5 1420.3,148.1 1421.7,150.3 1423.2,152.5 1425.0,154.0 1426.9,155.4 1428.7,158.0 1430.5,160.4 1432.4,160.9 1434.2,160.4 1436.1,159.1 1437.9,157.3 1439.7,152.5 1441.6,148.5 1443.4,144.8 1445.2,141.5 1446.5,137.4 1447.8,130.1 1448.9,126.8 1450.2,127.3 1451.5,122.8 1453.0,116.3 1454.4,112.7 1455.7,113.2 1457.0,117.2 1458.5,120.0 1460.3,121.8 1462.1,123.1 1463.6,127.3 1464.9,128.6 1466.7,129.2 1468.6,128.6 1470.4,130.1 1471.7,133.8 1473.2,136.5 1475.0,138.0 1476.5,139.7 1477.8,137.1 1479.0,135.6 1480.5,132.8 1482.0,129.2 1483.3,127.3 1484.5,126.8 1486.0,124.6 1486.9,115.4 1487.8,104.4 1488.8,98.0 1490.0,95.2 1490.8,91.2 1491.9,96.1 1493.0,100.7 1494.3,110.8 1495.6,120.9 1496.7,128.3 1498.0,131.6 1499.2,138.4 1500.7,148.5 1502.2,157.6 1503.5,165.9 1505.3,171.4 1507.1,173.3 1509.0,173.8 1510.8,174.2 1512.6,173.8 1514.5,173.3 1516.3,173.3 1518.2,174.2 1520.0,176.0 1521.8,178.2 1523.7,179.3 1525.5,178.8 1527.3,175.1 1529.2,169.6 1531.0,166.5 1532.3,167.8 1533.8,170.9 1535.6,172.3 1537.4,172.0 1538.9,171.4 1540.2,172.3 1541.5,173.3 1542.9,171.4 1544.8,168.7 1546.6,165.9 1548.5,162.8 1550.3,159.8 1552.1,159.8 1554.0,161.3 1555.8,159.5 1557.6,155.8 1559.1,154.0 1560.4,155.8 1561.7,158.6 1563.2,163.2 1565.0,167.8 1566.8,170.9 1568.7,172.0 1570.5,172.0 1572.3,173.3 1574.2,174.2 1576.0,175.1 1577.5,173.8 1579.3,174.2 1581.1,176.0 1583.0,177.8 1584.8,178.2 1586.7,177.5 1587.9,176.6 1589.2,177.8 1590.7,179.3 1592.5,178.2 1594.4,176.9 1596.2,176.0 1598.0,175.6 1599.9,175.1 1601.7,173.8 1603.5,173.3 1605.0,171.4 1606.8,168.7 1608.7,168.7 1610.5,169.0 1612.4,166.8 1613.7,164.1 1613.9,163.3 1616.5,157.8 1618.2,151.3 1619.8,140.5 1620.8,127.5 1621.9,119.9 1623.5,115.5 1625.2,114.0 1626.3,103.6 1627.4,90.6 1628.5,79.7 1629.5,73.2 1630.6,71.0 1631.7,76.5 1632.8,88.4 1634.3,101.4 1635.6,116.6 1637.1,131.8 1638.2,142.7 1640.0,154.6 1641.5,160.0 1643.0,163.3 1645.2,163.9 1647.3,164.8 1649.1,166.1 1650.8,168.3 1653.0,169.1 1655.1,170.4 1657.3,171.3 1659.5,170.4 1661.7,170.9 1663.2,171.3 1664.7,168.7 1666.4,167.0 1668.6,164.8 1670.8,160.0 1672.9,155.2 1674.7,152.4 1676.2,147.0 1677.7,136.2 1679.0,121.0 1680.5,99.2 1681.6,79.7 1682.7,64.5 1683.8,54.8 1684.9,51.5 1686.0,54.8 1687.0,64.5 1688.1,79.7 1689.2,94.9 1690.3,105.8 1691.4,118.8 1692.9,122.0 1694.6,124.9 1695.7,118.8 1696.8,107.9 1697.9,100.3 1699.0,103.6 1700.1,112.3 1701.6,121.0 1702.9,129.6 1704.4,135.7 1705.9,134.0 1707.7,126.4 1709.4,118.8 1710.9,114.9 1712.4,109.0 1713.7,106.8 1715.2,107.9 1716.8,112.3 1718.5,119.9 1720.7,123.1 1722.4,130.7 1723.9,137.2 1725.5,138.8 1727.2,143.7 1728.9,141.6 1730.4,143.1 1732.0,142.2 1733.3,138.3 1734.8,144.8 1736.3,155.7 1737.6,163.3 1738.7,165.3 1739.8,164.1 1740.8,160.3 1742.0,156.6 1743.2,155.5 1744.3,156.9 1745.3,157.8 1746.5,155.8 1747.7,156.3 1748.8,158.1 1749.8,161.1 1751.0,164.8 1752.5,166.8 1754.0,167.1 1755.5,168.6 1757.0,170.8 1758.2,169.3 1759.3,165.6 1760.8,162.3 1761.8,159.6 1762.8,155.1 1763.8,154.3 1764.9,156.3 1766.1,158.8 1767.3,164.4 1768.3,166.8 1769.4,165.9 1770.3,167.4 1771.3,170.4 1772.4,169.3 1773.6,166.3 1774.8,164.8 1775.8,166.3 1776.9,170.1 1778.1,173.8 1779.6,175.3 1781.1,176.9 1782.3,179.1 1783.8,179.9 1785.3,180.3 1786.8,181.8 1788.3,183.6 1789.8,185.9 1791.3,187.4 1792.8,187.4 1794.3,188.9 1796.1,190.4 1797.9,191.1 1799.9,191.4 1801.8,190.4 1803.6,189.3 1805.1,188.9 1806.9,188.4 1808.4,189.3 1809.9,189.9 1811.4,190.4 1812.3,188.1 1813.4,186.6 1814.9,185.9 1816.4,185.4 1817.4,185.9 1818.6,184.8 1819.8,184.4 1820.9,183.6 1822.4,184.4 1823.9,185.9 1825.4,186.9 1826.9,187.4 1828.4,186.6 1829.9,185.1 1831.4,184.4 1832.9,185.1 1834.4,186.3 1835.9,186.6" fill="none" stroke="#0000ff" stroke-width="1.5" stroke-linejoin="round"/></svg>
<svg x="998" y="316.45" width="837.7" height="222.2" viewBox="998 316.45 837.7 222.2" overflow="hidden"><polyline points="995.0,480.6 998.0,480.9 999.5,479.8 1000.7,482.1 1001.8,488.1 1002.8,490.8 1004.0,491.9 1005.2,494.9 1006.4,497.9 1007.6,499.8 1008.5,485.1 1009.4,461.1 1010.0,444.5 1010.8,440.3 1011.5,449.0 1012.3,464.1 1013.3,477.6 1014.5,486.3 1015.7,485.1 1016.8,481.3 1017.8,477.6 1019.0,473.1 1020.2,470.8 1021.3,468.6 1022.0,459.6 1022.8,454.3 1023.5,458.8 1024.3,465.6 1025.3,467.4 1026.5,467.8 1027.6,469.3 1028.5,467.4 1029.6,464.8 1030.6,465.6 1031.4,470.1 1032.3,471.9 1033.8,471.9 1035.3,471.6 1036.8,470.8 1038.3,468.3 1039.3,464.4 1040.4,463.3 1041.6,466.3 1042.8,473.1 1043.8,480.6 1044.9,488.1 1046.1,493.4 1047.6,494.9 1049.1,495.6 1050.6,497.1 1052.1,497.9 1053.6,496.8 1054.8,498.3 1055.8,498.9 1056.9,496.4 1058.1,492.9 1059.3,490.4 1060.8,489.3 1062.3,486.9 1063.4,488.9 1064.4,492.3 1065.9,492.9 1067.4,493.4 1068.9,494.9 1070.4,496.8 1071.9,498.6 1073.1,496.4 1074.3,493.4 1075.8,491.9 1076.9,489.6 1077.9,486.6 1078.8,486.9 1079.9,491.1 1081.4,495.6 1082.4,497.1 1083.6,496.4 1085.1,494.9 1086.7,493.4 1087.8,491.9 1088.9,491.1 1090.0,492.6 1091.2,494.1 1092.4,492.6 1093.4,491.4 1094.9,492.3 1096.4,489.6 1097.6,485.1 1098.7,482.1 1099.4,482.8 1100.5,486.6 1101.7,490.4 1102.9,492.6 1104.4,494.1 1105.9,495.3 1107.4,498.3 1108.9,500.1 1110.4,499.4 1111.9,498.3 1113.4,497.1 1114.9,495.3 1115.9,489.6 1117.0,485.1 1117.9,483.9 1119.0,485.9 1120.0,488.1 1121.2,489.6 1122.4,491.1 1123.9,492.6 1125.4,494.4 1126.9,496.8 1128.4,500.1 1129.5,498.6 1130.5,493.4 1131.7,485.1 1132.9,474.6 1134.0,465.6 1135.0,458.8 1135.9,457.3 1136.5,461.1 1137.4,469.3 1138.2,473.1 1139.2,472.3 1140.4,472.8 1141.5,473.8 1143.0,475.3 1144.5,477.3 1145.5,479.8 1146.7,481.8 1147.9,482.4 1149.0,480.9 1150.0,477.6 1151.2,473.1 1152.5,467.8 1153.5,461.8 1154.2,456.6 1155.3,452.2 1155.9,448.2 1158.0,438.8 1159.3,428.1 1160.7,420.1 1162.8,421.5 1164.7,418.8 1166.0,412.1 1167.4,393.4 1168.7,390.2 1170.0,385.4 1171.4,377.4 1172.7,366.7 1174.0,356.0 1175.4,351.2 1176.7,350.1 1178.0,356.0 1179.4,362.7 1181.2,369.4 1182.6,382.7 1184.2,404.1 1185.8,430.0 1186.1,428.1 1186.7,438.4 1187.5,445.9 1189.2,447.5 1190.3,448.4 1191.3,455.0 1192.5,461.7 1194.2,465.1 1195.4,473.4 1196.4,481.8 1197.5,490.1 1198.7,494.3 1200.0,492.1 1201.4,491.4 1202.5,492.6 1204.2,490.4 1205.4,488.4 1207.0,487.6 1208.4,481.8 1209.4,478.4 1210.4,481.8 1211.4,485.9 1212.5,478.4 1213.4,466.7 1214.6,453.4 1215.6,444.2 1216.4,445.9 1217.6,451.7 1218.7,456.7 1219.7,460.4 1220.9,461.4 1222.1,462.6 1223.4,463.1 1225.1,462.6 1226.4,464.2 1227.6,465.1 1228.8,466.7 1229.8,475.1 1230.9,483.4 1232.1,487.6 1233.1,485.1 1234.3,480.9 1235.1,481.8 1235.9,486.8 1237.1,490.9 1238.4,489.3 1239.8,489.8 1240.9,492.6 1242.1,496.4 1243.1,496.8 1244.3,493.4 1245.6,489.3 1247.1,485.9 1248.5,483.4 1249.8,481.8 1251.0,484.3 1252.1,487.6 1253.5,489.8 1254.8,492.6 1256.0,495.1 1257.6,497.1 1259.3,498.8 1261.0,499.3 1262.6,500.4 1264.3,502.1 1265.5,503.8 1266.8,504.8 1268.5,504.8 1270.2,505.5 1271.5,503.5 1272.7,502.6 1273.5,505.1 1274.3,509.3 1275.5,513.5 1276.8,515.5 1278.5,515.5 1280.2,516.5 1281.5,513.5 1282.7,510.1 1283.8,509.8 1285.2,512.6 1286.5,516.8 1287.7,519.8 1289.3,520.5 1291.0,519.3 1292.7,517.6 1294.4,516.8 1296.0,515.5 1297.7,516.0 1298.9,517.6 1300.2,518.8 1301.5,518.5 1303.2,516.8 1304.9,516.5 1306.9,516.5 1308.5,516.8 1310.2,516.5 1311.9,516.0 1313.6,515.5 1315.2,516.0 1316.9,515.1 1318.6,512.6 1319.9,512.6 1321.6,513.5 1323.2,513.8 1324.9,515.1 1326.6,514.8 1328.2,513.5 1329.9,511.8 1331.6,511.0 1333.3,510.5 1334.4,506.8 1335.6,500.1 1336.6,492.6 1337.8,491.4 1338.9,491.8 1339.7,486.8 1340.8,479.2 1341.7,481.8 1343.0,485.9 1344.2,486.8 1345.3,485.1 1346.7,484.3 1348.0,485.9 1349.2,490.1 1350.4,489.3 1351.7,482.6 1353.0,476.7 1354.7,473.4 1355.9,470.9 1357.0,465.9 1357.9,464.7 1358.7,469.2 1359.7,473.1 1361.4,474.7 1362.5,475.9 1363.7,478.1 1365.0,477.1 1366.4,478.4 1368.1,480.1 1369.2,483.4 1370.4,488.4 1371.7,495.1 1373.1,500.9 1374.2,506.8 1375.4,513.5 1376.7,516.8 1378.1,519.3 1379.2,521.5 1380.9,521.8 1382.1,523.2 1383.4,525.5 1384.8,528.2 1385.9,529.8 1387.6,528.8 1389.3,526.8 1390.9,524.3 1392.6,522.6 1394.3,523.5 1395.9,525.2 1397.6,526.5 1399.3,527.2 1400.9,527.2 1402.1,528.2 1403.5,529.3 1405.1,527.7 1406.8,526.0 1408.5,524.8 1410.1,523.5 1411.8,522.1 1413.5,521.0 1414.8,521.8 1416.0,523.8 1417.6,524.8 1419.3,524.3 1421.0,523.2 1422.7,521.5 1424.3,521.0 1426.0,520.6 1427.7,521.0 1429.3,521.8 1431.0,523.5 1432.2,525.2 1433.5,527.2 1435.2,528.2 1436.8,528.2 1438.5,527.7 1440.2,526.8 1441.5,525.5 1442.7,523.2 1444.3,522.6 1446.0,523.8 1447.7,522.6 1449.0,522.6 1450.2,524.3 1451.5,524.3 1452.7,521.5 1453.9,518.1 1455.2,516.8 1456.9,516.8 1458.5,518.5 1460.2,519.8 1461.9,519.3 1463.5,517.6 1465.2,516.8 1466.9,516.8 1468.6,516.8 1470.2,517.6 1471.9,518.1 1473.2,517.6 1474.4,514.3 1476.1,509.8 1477.7,504.8 1479.4,500.1 1481.1,497.6 1482.8,495.1 1484.4,493.1 1485.6,494.3 1486.6,496.4 1487.2,491.8 1488.3,485.1 1488.9,483.4 1489.9,485.1 1490.6,480.9 1491.9,477.6 1493.3,474.2 1493.7,473.1 1495.0,472.6 1496.3,471.7 1497.5,465.9 1498.7,460.1 1500.0,456.7 1501.3,452.5 1502.5,446.7 1503.7,444.7 1504.7,446.7 1505.5,453.4 1506.4,460.1 1507.5,460.9 1508.7,461.4 1510.0,463.1 1511.4,465.9 1512.5,470.9 1513.7,475.1 1515.0,476.7 1516.7,477.1 1518.0,478.8 1519.2,481.8 1520.4,485.9 1521.7,490.1 1523.4,493.1 1524.7,494.8 1525.9,495.9 1527.6,497.1 1529.2,496.8 1530.4,499.3 1531.7,501.8 1533.4,503.1 1535.1,503.8 1536.4,502.6 1537.6,500.9 1538.8,499.8 1540.1,500.1 1541.4,501.4 1543.1,501.8 1544.3,499.3 1545.4,495.9 1546.8,493.4 1548.1,490.4 1548.9,488.4 1550.1,489.3 1551.4,490.9 1552.6,491.4 1553.8,490.9 1555.1,492.1 1556.4,495.9 1557.6,500.9 1558.8,503.5 1560.1,503.8 1561.8,504.8 1563.1,507.6 1564.3,509.8 1565.5,509.3 1566.8,507.1 1568.1,505.5 1569.3,506.8 1570.5,508.1 1571.8,507.1 1573.1,506.5 1574.3,507.1 1575.5,507.6 1576.8,509.8 1578.2,512.6 1579.3,514.8 1581.0,516.8 1582.2,518.5 1583.5,520.1 1585.2,521.0 1586.8,521.3 1588.5,521.8 1590.2,522.1 1591.5,521.0 1592.7,520.1 1593.8,520.5 1595.2,521.5 1596.5,521.5 1597.7,521.0 1598.8,519.8 1600.2,519.3 1601.8,519.3 1603.5,518.5 1605.2,516.8 1606.9,514.3 1608.5,511.0 1610.2,507.6 1611.5,504.3 1612.7,498.4 1613.9,493.1 1614.9,488.4 1616.0,487.6 1617.2,486.8 1618.5,483.4 1619.9,480.1 1621.5,478.4 1622.7,479.2 1623.9,481.8 1625.2,485.1 1626.6,485.9 1627.7,485.1 1628.9,485.9 1630.2,486.4 1631.6,485.9 1632.7,486.8 1633.9,486.8 1634.9,483.1 1636.1,480.9 1637.2,482.1 1638.2,484.3 1639.4,484.3 1641.1,483.4 1642.8,483.1 1644.4,482.1 1646.1,483.4 1647.3,485.9 1648.3,488.8 1649.2,492.6 1650.3,496.8 1651.7,499.3 1653.3,500.4 1655.0,501.8 1656.7,503.1 1658.4,504.3 1659.7,506.8 1660.9,509.8 1662.5,512.6 1664.2,515.5 1665.9,518.5 1667.5,519.3 1669.2,518.1 1670.9,518.1 1672.5,518.8 1674.2,519.8 1675.4,519.3 1676.7,517.1 1678.1,516.8 1679.7,516.8 1681.4,514.3 1683.1,511.5 1684.7,508.1 1686.4,504.3 1688.1,500.1 1689.2,498.8 1690.4,496.8 1691.7,498.4 1692.8,500.9 1693.9,500.9 1694.8,506.8 1695.9,512.6 1697.1,516.0 1698.4,518.5 1700.1,520.5 1701.8,521.0 1703.4,520.5 1705.1,521.0 1706.8,521.0 1708.4,521.0 1709.8,523.5 1711.4,526.0 1713.5,526.8 1715.1,527.2 1716.8,527.7 1718.5,528.2 1720.1,528.2 1721.8,528.5 1723.5,528.8 1725.1,529.3 1726.8,529.3 1728.5,529.3 1730.1,529.3 1731.8,528.8 1733.5,527.7 1735.2,526.0 1736.8,525.5 1738.5,525.2 1740.2,524.8 1741.8,523.8 1743.5,522.6 1745.2,521.0 1746.8,519.3 1748.5,517.1 1750.2,515.5 1751.8,514.3 1753.5,512.6 1754.8,509.8 1756.0,506.0 1757.2,501.8 1758.5,498.4 1759.9,495.4 1761.5,493.1 1763.2,492.1 1764.9,491.4 1766.5,489.3 1767.7,486.4 1768.5,486.8 1769.4,490.4 1770.2,495.1 1771.0,496.4 1772.2,492.6 1773.5,486.8 1774.9,480.1 1776.0,478.1 1777.2,474.2 1778.2,468.7 1779.4,465.4 1780.6,465.9 1781.9,465.4 1783.2,463.4 1784.4,461.4 1785.6,462.1 1786.6,463.4 1787.7,466.7 1788.9,469.7 1789.9,469.7 1791.1,465.1 1792.2,458.4 1793.6,454.2 1794.9,452.5 1796.6,451.4 1797.8,451.7 1798.9,453.0 1800.3,454.7 1801.6,456.4 1803.3,458.7 1804.9,460.1 1806.6,460.4 1808.3,460.4 1809.4,460.9 1810.6,463.1 1811.9,466.7 1813.3,470.1 1814.0,474.2 1814.6,477.2 1815.6,475.9 1816.6,475.4 1817.3,476.4 1818.3,473.7 1819.5,473.1 1821.1,473.4 1822.3,473.1 1823.6,473.7 1825.0,472.1 1826.1,471.7 1827.8,472.6 1829.5,472.6 1831.1,471.7 1832.3,472.1 1833.7,473.1 1835.0,473.7 1837.0,474.4" fill="none" stroke="#0000ff" stroke-width="1.5" stroke-linejoin="round"/></svg>
<g stroke="#000" stroke-width="1.4" fill="none">
<rect x="943.86" y="44.35" width="891.84" height="221.25"/>
<line x1="1071.45" y1="265.6" x2="1071.45" y2="259.6"/>
<line x1="1071.45" y1="44.35" x2="1071.45" y2="50.35"/>
<line x1="1199.04" y1="265.6" x2="1199.04" y2="259.6"/>
<line x1="1199.04" y1="44.35" x2="1199.04" y2="50.35"/>
<line x1="1326.63" y1="265.6" x2="1326.63" y2="259.6"/>
<line x1="1326.63" y1="44.35" x2="1326.63" y2="50.35"/>
<line x1="1454.22" y1="265.6" x2="1454.22" y2="259.6"/>
<line x1="1454.22" y1="44.35" x2="1454.22" y2="50.35"/>
<line x1="1581.81" y1="265.6" x2="1581.81" y2="259.6"/>
<line x1="1581.81" y1="44.35" x2="1581.81" y2="50.35"/>
<line x1="1709.40" y1="265.6" x2="1709.40" y2="259.6"/>
<line x1="1709.40" y1="44.35" x2="1709.40" y2="50.35"/>
<line x1="943.86" y1="68.93" x2="949.86" y2="68.93"/>
<line x1="1835.7" y1="68.93" x2="1829.7" y2="68.93"/>
<line x1="943.86" y1="93.52" x2="949.86" y2="93.52"/>
<line x1="1835.7" y1="93.52" x2="1829.7" y2="93.52"/>
<line x1="943.86" y1="118.10" x2="949.86" y2="118.10"/>
<line x1="1835.7" y1="118.10" x2="1829.7" y2="118.10"/>
<line x1="943.86" y1="142.68" x2="949.86" y2="142.68"/>
<line x1="1835.7" y1="142.68" x2="1829.7" y2="142.68"/>
<line x1="943.86" y1="167.27" x2="949.86" y2="167.27"/>
<line x1="1835.7" y1="167.27" x2="1829.7" y2="167.27"/>
<line x1="943.86" y1="191.85" x2="949.86" y2="191.85"/>
<line x1="1835.7" y1="191.85" x2="1829.7" y2="191.85"/>
<line x1="943.86" y1="216.43" x2="949.86" y2="216.43"/>
<line x1="1835.7" y1="216.43" x2="1829.7" y2="216.43"/>
<line x1="943.86" y1="241.02" x2="949.86" y2="241.02"/>
<line x1="1835.7" y1="241.02" x2="1829.7" y2="241.02"/>
<rect x="943.86" y="316.45" width="891.84" height="222.20"/>
<line x1="1071.45" y1="538.65" x2="1071.45" y2="532.65"/>
<line x1="1071.45" y1="316.45" x2="1071.45" y2="322.45"/>
<line x1="1199.04" y1="538.65" x2="1199.04" y2="532.65"/>
<line x1="1199.04" y1="316.45" x2="1199.04" y2="322.45"/>
<line x1="1326.63" y1="538.65" x2="1326.63" y2="532.65"/>
<line x1="1326.63" y1="316.45" x2="1326.63" y2="322.45"/>
<line x1="1454.22" y1="538.65" x2="1454.22" y2="532.65"/>
<line x1="1454.22" y1="316.45" x2="1454.22" y2="322.45"/>
<line x1="1581.81" y1="538.65" x2="1581.81" y2="532.65"/>
<line x1="1581.81" y1="316.45" x2="1581.81" y2="322.45"/>
<line x1="1709.40" y1="538.65" x2="1709.40" y2="532.65"/>
<line x1="1709.40" y1="316.45" x2="1709.40" y2="322.45"/>
<line x1="943.86" y1="353.48" x2="949.86" y2="353.48"/>
<line x1="1835.7" y1="353.48" x2="1829.7" y2="353.48"/>
<line x1="943.86" y1="390.52" x2="949.86" y2="390.52"/>
<line x1="1835.7" y1="390.52" x2="1829.7" y2="390.52"/>
<line x1="943.86" y1="427.55" x2="949.86" y2="427.55"/>
<line x1="1835.7" y1="427.55" x2="1829.7" y2="427.55"/>
<line x1="943.86" y1="464.58" x2="949.86" y2="464.58"/>
<line x1="1835.7" y1="464.58" x2="1829.7" y2="464.58"/>
<line x1="943.86" y1="501.62" x2="949.86" y2="501.62"/>
<line x1="1835.7" y1="501.62" x2="1829.7" y2="501.62"/>
</g>
<g font-size="16.8" fill="#000">
<text x="1071.45" y="284.80" text-anchor="middle">20</text>
<text x="1199.04" y="284.80" text-anchor="middle">40</text>
<text x="1326.63" y="284.80" text-anchor="middle">60</text>
<text x="1454.22" y="284.80" text-anchor="middle">80</text>
<text x="1581.81" y="284.80" text-anchor="middle">100</text>
<text x="1709.40" y="284.80" text-anchor="middle">120</text>
<text x="1071.45" y="556.85" text-anchor="middle">20</text>
<text x="1199.04" y="556.85" text-anchor="middle">40</text>
<text x="1326.63" y="556.85" text-anchor="middle">60</text>
<text x="1454.22" y="556.85" text-anchor="middle">80</text>
<text x="1581.81" y="556.85" text-anchor="middle">100</text>
<text x="1709.40" y="556.85" text-anchor="middle">120</text>
<text x="1389.78" y="582.15" text-anchor="middle">dataset time (s)</text>
</g>
<text x="1389.78" y="37" font-size="20.2" text-anchor="middle">Normalized Estimation Error Squared - mono_ov_slam</text>
</g>
</svg></body></html>
